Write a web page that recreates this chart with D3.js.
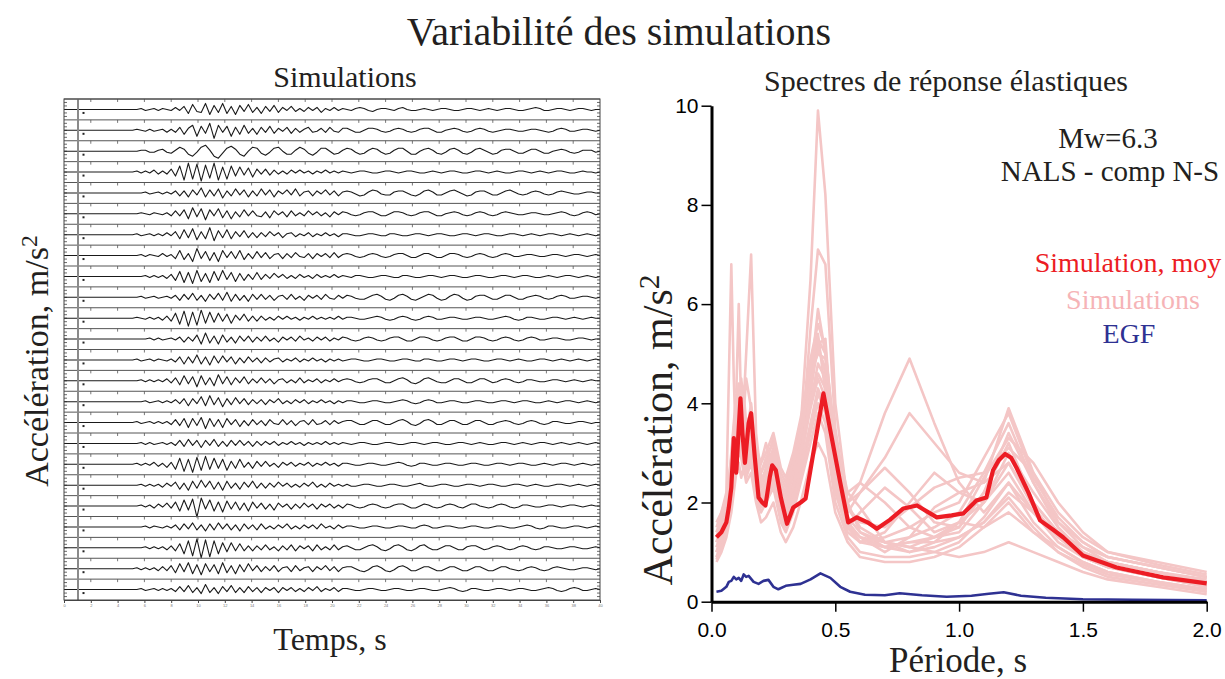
<!DOCTYPE html>
<html>
<head>
<meta charset="utf-8">
<script src="https://cdn.jsdelivr.net/npm/d3@7"></script>
<style>
  body { margin: 0; background: #fff; }
  svg text { fill: #231f20; }
</style>
</head>
<body>
<svg id="chart" width="1225" height="679"></svg>
<script>
// ---------- data: seismograms (left panel), 24 simulated records, amplitude units ~1px
const timeTicks = [0, 2, 4, 6, 8, 10, 12, 14, 16, 18, 20, 22, 24, 26, 28, 30, 32, 34, 36, 38, 40];
const traces = [
  [0,0,0,0,0,0,0,0,0,0,0,0,0,0,0,0, 0,0,1,-1,0,1,-1,1,0,-1, 2,-1,3,-4,5,-2,-3,6,-5,4,-3,6,-4,3,-5,4,-2,5,-3,2, -4,3,-2,4,-3,2,-1,3,-2,1,-2,2,-1,2,-3,1,-1,2,-1,1, 0,-1,1,2,1,-1,-2,0,1,1,0,-1,1,2,0,-1,-1,0,1,0,-1,0,1,1,0,-1,-1,0,1,1,0,-1,0,1,0,-1,0,1,1,0,-1,-1,0,1,2,1,-1,-1,0,1,1,0,-1,0,1,1,0,-1,0,0],
  [0,0,0,0,0,0,0,0,0,0,0,0,0,0,0,0, 0,1,0,-1,1,-1,0,1,-2,1, -2,3,-4,2,5,-6,4,-3,7,-8,5,-2,4,-6,3,-4,5,-3,2,-4, 3,-2,4,-3,2,-1,3,-3,2,-2,1,3,-2,-1,2,-2,3,-1,-2,2, 2,0,-2,-2,0,2,2,1,-1,-2,-1,1,2,1,-1,-2,-1,1,2,2,0,-2,-2,0,1,2,1,-1,-2,-1,1,2,1,-1,-2,-1,0,1,1,0,-1,-1,0,1,1,0,-1,-2,-1,1,2,1,-1,-1,0,1,1,0,-1,0],
  [0,0,0,0,0,0,0,0,0,0,0,0,0,0,0,0, 0,0,1,1,-1,-1,1,2,-1,-2, 1,4,2,-3,-5,-1,4,6,1,-5,-7,-2,3,5,2,-3,-5,0,4,3, -2,-4,-1,3,4,0,-3,-3,1,4,2,-2,-4,-1,3,3,0,-3,-2,1, 3,2,-1,-3,-2,1,3,2,-1,-3,-2,1,3,3,0,-3,-3,0,2,3,1,-2,-3,-1,2,3,1,-2,-3,-1,2,3,1,-1,-3,-2,1,2,2,0,-2,-2,0,2,2,0,-2,-2,0,1,2,1,-1,-2,-1,1,1,1,-1,0],
  [0,0,0,0,0,0,0,0,0,0,0,0,0,0,0,0, 0,1,-1,1,-1,2,-2,1,-2,3, -4,6,-8,9,-7,8,-9,7,-6,9,-8,5,-7,6,-4,5,-3,4,-5,3, -2,3,-3,2,-2,1,-2,2,-1,2,-1,1,-2,1,-1,2,-1,1,-1,1, 0,-1,0,1,1,0,-1,-1,0,1,1,0,-1,0,1,1,0,-1,-1,0,1,0,-1,0,1,1,0,-1,-1,0,1,1,0,-1,0,1,0,-1,-1,0,1,1,0,-1,0,1,0,-1,0,1,1,0,-1,-1,0,1,0,0,-1,0],
  [0,0,0,0,0,0,0,0,0,0,0,0,0,0,0,0, 0,0,0,1,-1,0,1,-1,1,-1, 2,-3,2,-4,3,-2,5,-4,3,-3,4,-5,2,-3,4,-2,3,-4,2,-3, 4,-2,3,-4,2,-1,3,-2,4,-3,1,2,-3,2,-1,3,-2,2,-3,1, 2,1,-1,-3,-2,1,3,2,-1,-2,-2,1,2,2,0,-2,-3,-1,2,3,1,-2,-2,0,2,3,1,-1,-3,-2,1,2,2,0,-2,-2,0,2,3,1,-1,-2,-1,1,2,1,-1,-2,-1,1,2,1,0,-1,-1,0,1,1,0,0],
  [0,0,0,0,0,0,0,0,0,0,0,0,0,0,0,0, 0,0,1,0,-1,1,0,-1,1,-2, 3,-2,4,-5,6,-3,5,-6,4,-2,5,-4,3,-5,2,-3,4,-2,3,-2, -3,2,-4,3,-1,2,-3,3,-2,1,-2,3,-1,2,-2,1,-3,2,-1,2, 1,-1,-2,-1,1,2,2,0,-2,-2,0,2,2,1,-1,-2,-1,1,2,2,0,-2,-2,0,1,2,1,-1,-2,-1,1,2,1,-1,-2,-1,1,2,1,0,-1,-1,0,1,1,0,-1,-1,0,1,2,1,-1,-2,-1,1,2,1,-1,0],
  [0,0,0,0,0,0,0,0,0,0,0,0,0,0,0,0, 0,1,-1,0,1,-1,1,-1,2,-1, 3,-4,5,-3,6,-5,3,-4,7,-6,4,-3,5,-4,3,-2,4,-3,2,-3, 2,-2,3,-1,2,-3,1,2,-2,1,-1,2,-2,1,-1,2,-1,1,-2,1, 1,0,-1,-1,0,1,1,0,-1,-1,1,1,0,-1,-1,0,1,1,0,-1,0,1,1,0,-1,-1,0,1,1,0,-1,0,1,1,0,-1,-1,0,1,1,0,-1,0,1,0,-1,0,1,1,0,-1,0,1,0,-1,0,1,0,-1,0],
  [0,0,0,0,0,0,0,0,0,0,0,0,0,0,0,0, 0,0,1,-1,1,0,-1,2,-1,1, -3,5,-4,2,-6,7,-3,4,-5,3,-6,5,-2,4,-3,5,-4,2,-3,4, -2,3,-3,1,2,-3,2,-2,3,-1,-2,2,-3,2,-1,2,-2,3,-2,1, 2,1,-1,-2,-1,1,2,1,-1,-2,-1,1,2,2,0,-2,-2,0,2,2,0,-2,-2,0,2,2,1,-1,-2,-1,1,2,1,-1,-2,-1,1,2,1,-1,-1,0,1,1,0,-1,-1,0,1,1,0,-1,0,1,1,0,-1,0,1,0],
  [0,0,0,0,0,0,0,0,0,0,0,0,0,0,0,0, 0,0,0,1,-1,1,-1,1,-2,2, -4,5,-6,4,-7,6,-5,3,-6,5,-4,6,-3,4,-5,3,-4,2,-3,4, -3,2,-2,3,-1,2,-2,1,-2,2,-1,1,-2,2,-1,1,-1,2,-1,1, 0,-1,1,1,0,-1,-1,0,1,1,0,-1,-1,1,1,0,-1,-1,0,1,1,0,-1,0,1,1,0,-1,-1,0,1,1,0,-1,-1,0,1,1,0,-1,0,1,1,0,-1,-1,0,1,0,-1,0,1,1,0,-1,0,1,0,-1,0],
  [0,0,0,0,0,0,0,0,0,0,0,0,0,0,0,0, 0,0,1,-1,0,1,-1,0,1,-1, 2,-3,3,-2,4,-3,2,-4,3,-2,4,-3,5,-4,3,-3,2,-4,3,-2, 3,-2,2,-3,1,2,-2,3,-2,1,-3,2,-1,2,-2,3,-1,-2,2,-1, 2,1,-1,-2,-2,0,2,3,1,-2,-3,-1,2,3,1,-2,-3,-1,1,3,2,-1,-3,-2,1,3,2,-1,-3,-2,1,2,2,0,-2,-2,0,2,2,0,-2,-2,0,1,2,1,-1,-2,-1,1,2,1,-1,-1,0,1,1,0,-1,0],
  [0,0,0,0,0,0,0,0,0,0,0,0,0,0,0,0, 0,1,0,-1,1,-1,1,-2,2,-3, 5,-6,7,-8,6,-7,8,-5,6,-4,5,-3,4,-5,3,-2,4,-3,2,-3, 2,-2,1,-2,2,-1,2,-1,1,-2,1,-1,2,-1,1,-1,1,-1,2,-1, 1,1,0,-1,-1,0,1,2,1,-1,-2,-1,1,2,1,-1,-2,-1,1,2,1,-1,-1,0,1,1,0,-1,-1,0,1,1,0,-1,-1,0,1,2,1,-1,-2,-1,1,1,0,-1,-1,0,1,1,0,-1,0,1,0,-1,0,1,0,0],
  [0,0,0,0,0,0,0,0,0,0,0,0,0,0,0,0, 0,0,0,0,1,-1,1,-1,0,1, -1,2,-3,2,-2,4,-5,6,-4,3,-5,4,-3,2,-4,3,-2,3,-3,2, -2,3,-2,1,-3,2,-1,2,-2,3,-1,1,-2,2,-1,2,-2,1,-1,2, 1,-1,-2,-1,1,2,1,-1,-2,-1,1,2,2,0,-2,-2,0,2,2,1,-1,-2,-1,1,2,2,0,-2,-2,0,2,2,1,-1,-2,-1,1,2,1,-1,-2,-1,1,2,1,-1,-1,0,1,1,0,-1,-1,0,1,1,0,-1,0,0],
  [0,0,0,0,0,0,0,0,0,0,0,0,0,0,0,0, 0,1,-1,0,1,-1,1,0,-1,1, -2,3,-4,3,-3,5,-4,3,-5,4,-3,4,-2,3,-4,2,-3,3,-2,2, -3,2,-2,1,2,-2,1,-1,2,-2,1,-1,2,-1,1,-2,1,-1,1,-1, 0,1,1,0,-1,-1,0,1,1,0,-1,-1,0,1,1,0,-1,-1,1,1,0,-1,-1,0,1,1,0,-1,0,1,1,0,-1,-1,0,1,1,0,-1,0,1,0,-1,-1,0,1,1,0,-1,0,1,0,-1,0,1,0,-1,0,1,0],
  [0,0,0,0,0,0,0,0,0,0,0,0,0,0,0,0, 0,0,1,-1,1,-1,1,-1,2,-2, 3,-4,5,-3,4,-6,5,-4,3,-5,6,-3,4,-4,3,-2,4,-3,2,-2, 3,-2,2,-3,1,2,-2,1,-2,3,-2,1,-1,2,-2,1,-1,2,-1,1, 2,1,-1,-2,-1,1,2,2,0,-2,-2,0,2,3,1,-2,-3,-1,2,3,1,-1,-2,-2,0,2,2,0,-2,-2,0,2,2,0,-2,-1,1,2,1,-1,-2,-1,1,1,0,-1,-1,0,1,1,0,-1,0,1,0,-1,0,1,0,0],
  [0,0,0,0,0,0,0,0,0,0,0,0,0,0,0,0, 0,0,0,1,-1,0,1,-1,1,-1, 2,-2,3,-4,3,-2,5,-4,6,-3,4,-5,3,-3,4,-2,3,-3,2,-2, 2,-3,2,-1,3,-2,1,-2,2,-1,2,-2,1,-1,2,-1,1,-2,1,-1, 1,1,0,-1,-1,0,1,1,0,-1,-1,0,1,2,1,-1,-2,-1,1,2,1,-1,-1,0,1,1,0,-1,-1,0,1,1,0,-1,-1,0,1,1,0,-1,0,1,1,0,-1,-1,0,1,0,-1,0,1,1,0,-1,0,1,0,-1,0],
  [0,0,0,0,0,0,0,0,0,0,0,0,0,0,0,0, 0,1,-1,0,1,-1,1,-1,1,-2, 3,-3,4,-5,4,-3,5,-6,4,-4,3,-5,4,-2,3,-4,2,-3,3,-2, 2,-3,3,-1,-2,3,-2,2,-3,1,2,-2,3,-2,-1,2,-2,2,-1,1, 2,2,0,-2,-2,0,2,2,0,-2,-2,0,2,3,1,-2,-3,-1,2,3,1,-2,-2,0,2,2,0,-2,-2,0,2,2,0,-2,-2,0,1,2,1,-1,-2,-1,1,2,1,-1,-2,-1,1,1,0,-1,-1,0,1,1,0,-1,0,0],
  [0,0,0,0,0,0,0,0,0,0,0,0,0,0,0,0, 0,0,1,-1,1,-1,0,1,-1,1, -2,3,-3,4,-2,3,-4,3,-2,4,-3,2,-3,3,-2,3,-2,2,-3,2, -2,2,-1,2,-2,1,-1,2,-1,1,-2,1,-1,1,-1,2,-1,1,-1,1, 0,-1,0,1,1,0,-1,-1,0,1,1,0,-1,-1,0,1,1,0,-1,0,1,1,0,-1,-1,0,1,1,0,-1,0,1,0,-1,-1,0,1,1,0,-1,0,1,0,-1,0,1,1,0,-1,0,1,0,-1,0,1,0,-1,0,1,0],
  [0,0,0,0,0,0,0,0,0,0,0,0,0,0,0,0, 0,1,-1,1,-1,2,-2,1,-3,2, -5,6,-7,5,-8,7,-6,8,-5,6,-4,5,-6,3,-4,5,-3,2,-4,3, -2,3,-2,1,-3,2,-1,2,-2,1,-1,2,-2,1,-1,2,-1,1,-2,1, 1,0,-1,-1,0,1,1,0,-1,-1,0,1,2,1,-1,-2,-1,1,1,0,-1,-1,0,1,1,0,-1,-1,0,1,1,0,-1,-1,0,1,1,0,-1,0,1,1,0,-1,-1,0,1,0,-1,0,1,1,0,-1,0,1,0,-1,0,0],
  [0,0,0,0,0,0,0,0,0,0,0,0,0,0,0,0, 0,0,1,-1,1,-1,1,-2,2,-1, 3,-4,2,-5,4,-3,5,-2,4,-4,3,-5,4,-3,2,-4,3,-2,4,-3, 2,-3,2,-2,3,-1,2,-2,1,-2,2,-1,3,-2,1,-2,2,-1,1,-1, 1,-1,-1,0,1,1,0,-1,-1,0,1,1,0,-1,-1,0,1,2,0,-1,-1,0,1,1,0,-1,-1,0,1,1,0,-1,0,1,1,0,-1,-1,0,1,1,0,-1,0,1,0,-1,-1,0,1,1,0,-1,0,1,0,-1,0,1,0],
  [0,0,0,0,0,0,0,0,0,0,0,0,0,0,0,0, 0,0,1,-1,1,-2,2,-1,3,-2, 4,-5,6,-4,7,-11,8,-3,6,-5,4,-6,5,-3,4,-4,3,-5,4,-2, 3,-3,2,-4,3,-1,2,-3,2,-2,3,-1,2,-3,2,-1,2,-2,1,-2, 2,1,-1,-2,-1,1,2,1,-1,-2,-1,1,2,2,0,-2,-2,0,2,1,-1,-2,-1,1,2,1,-1,-2,0,2,2,0,-1,-2,-1,1,2,1,-1,-2,-1,1,1,0,-1,-1,0,1,1,0,-1,0,1,1,0,-1,0,1,0,0],
  [0,0,0,0,0,0,0,0,0,0,0,0,0,0,0,0, 0,0,0,1,-1,1,0,-1,1,-1, 2,-3,3,-2,4,-3,2,-4,3,-3,4,-2,3,-3,2,-4,3,-2,2,-3, 3,-2,1,-2,2,-1,3,-2,1,-2,2,-1,2,-2,3,-1,1,-2,2,-1, 1,1,0,-1,-1,0,1,1,0,-1,-1,0,1,1,0,-1,-1,1,2,1,-1,-1,0,1,1,0,-1,-1,0,1,1,0,-1,-1,0,1,1,0,-1,-1,0,1,2,1,-1,-2,-1,1,1,0,-1,-1,0,1,1,0,-1,0,1,0],
  [0,0,0,0,0,0,0,0,0,0,0,0,0,0,0,0, 0,0,0,1,-1,1,-1,1,-2,2, -3,4,-6,7,-8,9,-10,8,-9,7,-6,5,-4,5,-3,4,-3,2,-3,2, -2,3,-2,1,-3,2,-2,3,-3,2,-1,2,-3,3,-2,1,-2,3,-2,1, 2,0,-2,-2,0,2,3,1,-2,-3,-1,2,3,1,-2,-3,-1,2,3,0,-2,-2,0,2,2,0,-2,-2,1,2,2,0,-2,-1,1,2,1,-1,-2,-1,1,2,1,-1,-2,-1,1,1,0,-1,-1,0,1,1,0,-1,-1,0,1,0],
  [0,0,0,0,0,0,0,0,0,0,0,0,0,0,0,0, 0,1,-1,1,-1,1,-2,2,-2,3, -4,5,-3,6,-5,4,-6,5,-3,4,-5,6,-4,3,-5,4,-3,5,-2,3, -3,2,-2,3,-3,1,2,-3,3,-2,1,2,-3,2,-1,3,-2,2,-3,1, 2,2,0,-2,-3,-1,2,3,1,-2,-3,-1,2,3,1,-2,-2,0,2,2,0,-2,-2,0,2,2,0,-2,-2,0,2,2,0,-2,-2,0,2,2,0,-1,-2,-1,1,2,1,-1,-2,-1,1,2,1,0,-1,-1,0,1,1,0,-1,0],
  [0,0,0,0,0,0,0,0,0,0,0,0,0,0,0,0, 0,0,1,-1,0,1,-1,1,-1,1, -2,3,-2,4,-3,2,-4,5,-3,2,-4,3,-2,4,-3,2,-3,3,-2,2, -3,2,-1,2,-3,2,-1,2,-2,1,-2,2,-1,3,-2,1,-1,2,-2,1, 1,0,-1,-1,0,1,1,0,-1,-1,0,1,1,0,-1,-1,0,1,1,0,-1,-1,0,1,2,1,-1,-2,-1,1,1,0,-1,-1,0,1,1,0,-1,0,1,1,0,-1,-1,0,1,2,1,-1,-2,-1,1,2,1,-1,-1,0,1,0]
];

// ---------- data: response spectra (right panel), m/s2 vs period s
const periodTicks = [0, 0.5, 1.0, 1.5, 2.0];
const accTicks = [0, 2, 4, 6, 8, 10];
const periods = [0.02,0.04,0.06,0.08,0.09,0.1,0.11,0.12,0.13,0.14,0.16,0.18,0.2,0.22,0.25,0.28,0.3,0.33,0.36,0.4,0.43,0.46,0.5,0.55,0.6,0.7,0.8,0.9,1.0,1.1,1.2,1.3,1.4,1.5,1.6,1.8,2.0];
const simSpectra = [
  [1.2,1.4,1.8,2.5,3.0,3.5,3.8,4.2,3.6,3.0,3.5,2.8,2.4,2.6,3.0,2.2,2.0,2.6,3.5,6.5,9.9,8.2,4.0,2.0,1.4,1.1,1.0,1.2,1.6,2.0,2.6,1.8,1.2,0.9,0.7,0.5,0.35],
  [1.0,1.3,1.6,2.2,2.8,3.2,3.5,3.0,3.8,4.5,3.9,2.6,2.2,2.0,2.4,1.8,1.7,2.2,3.0,5.5,7.1,6.8,3.5,1.9,1.5,1.2,1.1,1.3,1.5,2.2,3.2,2.0,1.4,1.0,0.8,0.6,0.4],
  [1.5,1.8,2.2,6.8,4.5,3.0,4.2,3.5,3.2,2.8,3.0,2.4,2.8,3.2,2.6,2.0,2.2,2.5,2.8,4.5,5.9,5.0,2.8,1.6,1.3,1.0,1.3,1.9,2.2,2.4,3.9,2.6,1.6,1.1,0.8,0.6,0.4],
  [1.3,1.5,1.9,2.4,3.2,3.8,3.5,4.5,4.0,5.0,7.0,3.4,2.5,2.4,2.9,2.2,2.0,2.4,3.2,4.8,5.4,4.2,2.4,1.5,1.3,1.1,1.2,1.3,1.4,2.0,3.0,2.2,1.5,1.0,0.7,0.5,0.3],
  [1.1,1.4,1.8,3.0,3.6,4.2,6.0,3.8,3.4,3.0,3.6,2.6,2.3,2.5,2.8,2.0,1.8,2.2,2.9,4.2,5.2,5.3,2.6,1.7,1.4,1.2,1.3,1.5,1.8,2.6,3.6,2.4,1.5,1.0,0.8,0.6,0.45],
  [0.9,1.2,1.5,2.0,2.5,3.0,3.2,3.5,3.0,2.8,3.2,2.3,2.0,2.2,2.5,1.8,1.6,2.0,2.6,3.5,4.2,3.8,2.5,2.2,2.4,3.8,4.9,3.6,2.4,1.8,2.4,1.8,1.3,0.9,0.7,0.5,0.3],
  [1.4,1.6,2.0,2.6,3.0,3.4,3.9,4.0,3.5,3.2,3.4,2.9,2.6,2.8,3.3,2.6,2.4,2.9,3.6,4.6,5.2,4.6,2.8,2.0,2.2,2.9,3.8,3.2,2.6,2.4,2.8,2.0,1.4,1.0,0.8,0.6,0.4],
  [0.8,1.0,1.3,1.8,2.2,2.6,2.8,2.5,2.7,2.4,2.6,2.0,1.6,1.7,2.0,1.4,1.2,1.5,2.0,2.8,3.2,2.9,1.8,1.2,0.9,0.8,0.8,0.9,1.1,1.5,2.0,1.4,1.0,0.7,0.5,0.35,0.2],
  [1.0,1.3,1.7,2.3,2.9,3.4,3.3,3.8,3.2,3.4,3.0,2.5,2.1,2.3,2.6,1.9,1.7,2.1,2.8,4.0,4.8,4.5,2.6,1.5,1.2,1.4,2.0,2.6,2.2,2.0,2.8,1.9,1.3,0.9,0.7,0.5,0.3],
  [1.2,1.5,1.9,2.6,3.3,3.0,3.6,3.2,4.2,3.6,3.8,2.7,2.4,2.7,3.1,2.3,2.1,2.6,3.3,4.6,5.0,4.9,3.0,1.8,2.2,2.7,2.2,1.6,1.5,2.2,3.4,2.4,1.6,1.2,0.9,0.7,0.5],
  [1.6,1.8,2.1,2.8,3.4,3.9,4.4,4.1,3.6,3.3,4.0,3.0,2.6,2.9,3.2,2.4,2.2,2.7,3.5,4.9,5.6,5.1,3.1,1.9,1.6,1.5,1.9,2.3,2.5,2.6,3.1,2.6,1.8,1.3,1.0,0.75,0.55],
  [0.9,1.1,1.4,1.9,2.4,2.8,3.0,2.9,2.6,2.5,2.8,2.1,1.8,2.0,2.3,1.6,1.4,1.8,2.4,3.2,3.8,3.4,2.0,1.3,1.0,0.9,0.9,1.0,1.2,1.7,2.4,1.6,1.1,0.8,0.6,0.4,0.25],
  [1.3,1.6,2.0,2.7,3.1,3.6,3.4,3.9,3.3,3.1,3.3,2.8,2.5,2.6,3.0,2.5,2.3,2.8,3.4,4.4,5.1,4.7,3.2,2.0,2.4,2.0,1.5,1.3,1.6,2.5,3.3,2.8,2.0,1.4,1.0,0.8,0.6],
  [1.1,1.3,1.7,2.3,2.7,3.1,3.6,3.3,3.0,2.9,3.1,2.4,2.1,2.3,2.7,2.0,1.8,2.2,2.9,3.9,4.5,4.1,2.4,1.5,1.8,2.3,1.9,1.4,1.6,1.5,1.8,1.4,1.1,0.8,0.6,0.4,0.25],
  [1.4,1.7,2.1,2.9,3.5,4.0,3.7,4.3,3.9,3.5,3.7,3.1,2.8,3.0,3.4,2.7,2.5,3.0,3.7,4.7,5.3,5.0,3.3,2.2,1.9,1.2,1.0,1.1,1.3,1.6,2.2,1.8,1.4,1.1,0.9,0.7,0.5],
  [1.0,1.2,1.6,2.1,2.6,3.0,3.1,3.0,2.8,2.6,2.9,2.2,1.9,2.1,2.4,1.7,1.5,1.9,2.5,3.4,4.0,3.6,2.2,1.4,1.2,1.3,1.5,1.8,2.0,2.9,3.8,2.5,1.7,1.2,0.9,0.7,0.5],
  [1.2,1.4,1.8,2.4,2.9,3.3,3.4,3.6,3.1,3.0,3.2,2.5,2.2,2.4,2.8,2.1,1.9,2.3,3.0,4.1,4.6,4.3,2.5,1.6,1.3,1.2,1.1,1.0,0.9,1.0,1.2,1.0,0.8,0.6,0.45,0.3,0.15],
  [0.85,1.1,1.4,2.0,2.5,2.9,3.0,3.2,2.9,2.7,2.9,2.3,2.0,2.1,2.5,1.8,1.6,2.0,2.7,3.6,4.3,3.9,2.3,1.5,1.2,1.1,1.2,1.2,1.3,1.6,2.1,1.5,1.0,0.75,0.55,0.4,0.2]
];
const meanPeriods = [0.02,0.03,0.04,0.05,0.06,0.07,0.08,0.09,0.1,0.11,0.117,0.125,0.135,0.15,0.16,0.175,0.19,0.205,0.218,0.235,0.245,0.26,0.28,0.305,0.33,0.36,0.38,0.41,0.43,0.452,0.48,0.52,0.552,0.587,0.63,0.668,0.72,0.775,0.83,0.91,0.97,1.017,1.07,1.11,1.137,1.16,1.186,1.21,1.232,1.28,1.327,1.38,1.42,1.5,1.636,1.824,2.0];
const meanSpectrum = [1.3,1.35,1.4,1.5,1.6,1.9,2.3,3.3,2.6,3.5,4.1,3.4,2.8,3.6,3.8,2.9,2.1,2.0,1.94,2.5,2.75,2.65,2.1,1.57,1.9,2.0,2.08,2.96,3.55,4.2,3.45,2.4,1.6,1.7,1.6,1.47,1.65,1.88,1.94,1.7,1.74,1.78,2.04,2.1,2.65,2.85,2.98,2.9,2.7,2.2,1.64,1.45,1.3,0.93,0.69,0.49,0.37];
const egfPeriods = [0.02,0.04,0.06,0.07,0.08,0.09,0.1,0.11,0.12,0.13,0.14,0.15,0.17,0.19,0.21,0.23,0.25,0.27,0.3,0.33,0.36,0.4,0.44,0.48,0.52,0.56,0.62,0.7,0.76,0.85,0.95,1.05,1.12,1.18,1.25,1.35,1.5,1.7,2.0];
const egfSpectrum = [0.2,0.22,0.3,0.4,0.42,0.5,0.45,0.48,0.42,0.55,0.5,0.52,0.4,0.36,0.42,0.44,0.3,0.25,0.32,0.34,0.36,0.45,0.57,0.48,0.3,0.2,0.14,0.13,0.17,0.13,0.1,0.12,0.16,0.19,0.12,0.08,0.05,0.04,0.03];

const serif = "'Liberation Serif', 'Times New Roman', serif";
const sans = "'Liberation Sans', Arial, sans-serif";
const svg = d3.select("#chart");

function label(x, y, txt, size, opts) {
    opts = opts || {};
    const t = svg.append("text")
        .attr("x", x).attr("y", y)
        .attr("text-anchor", opts.anchor || "middle")
        .style("font-family", serif)
        .style("font-size", size + "px")
        .text(txt);
    if (opts.color) t.style("fill", opts.color);
    return t;
}

label(619, 45, "Variabilité des simulations", 40);

// ---------- left panel: stacked seismograms
const box = {x0: 64, x1: 600, y0: 99, y1: 600};
const xTime = d3.scaleLinear().domain([0, 40]).range([box.x0, box.x1]);
const yRow = d3.scaleBand().domain(d3.range(traces.length)).range([box.y0, box.y1]);
const amp = d3.scaleLinear().domain([-10, 10]).range([10, -10]);

const left = svg.append("g");
traces.forEach((tr, k) => {
    const top = yRow(k), base = top + yRow.bandwidth() / 2;
    const dt = 40 / (tr.length - 1);
    // row separator and its small ticks
    left.append("line")
        .attr("x1", box.x0).attr("x2", box.x1).attr("y1", top).attr("y2", top)
        .attr("stroke", "#555").attr("stroke-width", 1);
    left.selectAll(null).data(timeTicks.slice(1, -1)).enter().append("line")
        .attr("x1", d => xTime(d)).attr("x2", d => xTime(d))
        .attr("y1", top).attr("y2", top + 3)
        .attr("stroke", "#555").attr("stroke-width", 0.8);
    // small ticks on the side frames
    [-7, -3.5, 0, 3.5, 7].forEach(o => {
        left.append("line").attr("x1", box.x0).attr("x2", box.x0 + 3)
            .attr("y1", base + o).attr("y2", base + o).attr("stroke", "#444").attr("stroke-width", 0.8);
        left.append("line").attr("x1", box.x1 - 3).attr("x2", box.x1)
            .attr("y1", base + o).attr("y2", base + o).attr("stroke", "#444").attr("stroke-width", 0.8);
    });
    const line = d3.line()
        .x((d, i) => xTime(i * dt))
        .y(d => base + amp(d));
    left.append("path").datum(tr)
        .attr("d", line)
        .attr("fill", "none").attr("stroke", "#1a1a1a").attr("stroke-width", 1.1)
        .attr("stroke-linejoin", "round");
    left.append("rect").attr("x", 82.5).attr("y", base + 2.5).attr("width", 2).attr("height", 2).attr("fill", "#222");
});

// origin marker line
left.append("line").attr("x1", 78).attr("x2", 78).attr("y1", box.y0).attr("y2", box.y1)
    .attr("stroke", "#8a8a8a").attr("stroke-width", 2);
left.append("rect")
    .attr("x", box.x0).attr("y", box.y0).attr("width", box.x1 - box.x0).attr("height", box.y1 - box.y0)
    .attr("fill", "none").attr("stroke", "#444").attr("stroke-width", 1);

// bottom time axis with tiny labels
const timeAxis = d3.axisBottom(xTime).tickValues(timeTicks).tickSize(3).tickPadding(1).tickSizeOuter(0);
const ta = left.append("g").attr("transform", `translate(0,${box.y1})`).call(timeAxis);
ta.select(".domain").attr("stroke", "#444");
ta.selectAll(".tick line").attr("stroke", "#444");
ta.selectAll(".tick text").style("font-size", "4px").style("fill", "#777");

label(345, 87, "Simulations", 30);
label(330, 650, "Temps, s", 32);
const yl1 = svg.append("text")
    .attr("transform", "translate(48,361) rotate(-90)")
    .attr("text-anchor", "middle")
    .style("font-family", serif).style("font-size", "34px")
    .text("Accélération, m/s");
yl1.append("tspan").attr("dy", "-0.45em").style("font-size", "0.7em").text("2");

// ---------- right panel: response spectra
const xPer = d3.scaleLinear().domain([0, 2]).range([711.5, 1206.7]);
const yAcc = d3.scaleLinear().domain([0, 10]).range([601.7, 105.7]);
const right = svg.append("g");

const specLine = (per) => d3.line()
    .x((d, i) => xPer(per[i]))
    .y(d => yAcc(d));

right.selectAll(".sim").data(simSpectra).enter().append("path")
    .attr("class", "sim")
    .attr("d", specLine(periods))
    .attr("fill", "none").attr("stroke", "#f4c6c6").attr("stroke-width", 2.6)
    .attr("stroke-linejoin", "round");
right.append("path").datum(egfSpectrum)
    .attr("d", specLine(egfPeriods))
    .attr("fill", "none").attr("stroke", "#2e3192").attr("stroke-width", 2.6)
    .attr("stroke-linejoin", "round");
right.append("path").datum(meanSpectrum)
    .attr("d", specLine(meanPeriods))
    .attr("fill", "none").attr("stroke", "#ec1c24").attr("stroke-width", 4.2)
    .attr("stroke-linejoin", "round");

// axes
const yAxis = d3.axisLeft(yAcc).tickValues(accTicks).tickFormat(d3.format("d"))
    .tickSize(10).tickPadding(3).tickSizeOuter(0);
const ya = right.append("g").attr("transform", "translate(711.5,0)").call(yAxis);
const xAxis = d3.axisBottom(xPer).tickValues(periodTicks).tickFormat(d3.format(".1f"))
    .tickSize(10).tickPadding(10).tickSizeOuter(0);
const xa = right.append("g").attr("transform", "translate(0,601.7)").call(xAxis);
[ya, xa].forEach(a => {
    a.select(".domain").attr("stroke", "#000").attr("stroke-width", 3);
    a.selectAll(".tick line").attr("stroke", "#000").attr("stroke-width", 1.5);
    a.selectAll(".tick text").style("font-family", sans).style("font-size", "21px").style("fill", "#000");
});

label(946, 91, "Spectres de réponse élastiques", 30);
label(958, 672, "Période, s", 35);
const yl2 = svg.append("text")
    .attr("transform", "translate(672,430) rotate(-90)")
    .attr("text-anchor", "middle")
    .style("font-family", serif).style("font-size", "42px")
    .text("Accélération, m/s");
yl2.append("tspan").attr("dy", "-0.45em").style("font-size", "0.7em").text("2");

// legend
label(1108, 148, "Mw=6.3", 29);
label(1110, 181, "NALS - comp N-S", 29);
label(1128, 272, "Simulation, moy", 28, {color: "#ec1c24"});
label(1133, 309, "Simulations", 28, {color: "#f6b4b7"});
label(1129, 343, "EGF", 28, {color: "#2e3192"});
</script>
</body>
</html>
